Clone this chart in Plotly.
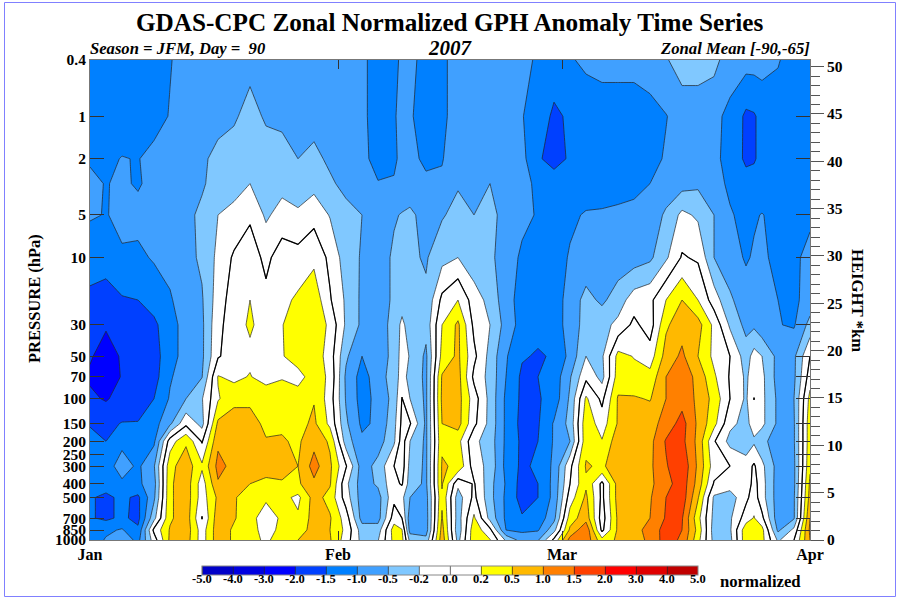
import numpy as np
import plotly.graph_objects as go

FONT = "Liberation Serif"

days = sorted(set(list(range(0, 40, 2)) + [39] + list(range(40, 92, 2)) + [83]))

pressure = [0.4, 1, 2, 3, 5, 10, 20, 30, 50, 70, 100, 150, 200, 300, 400, 500, 700, 850, 1000]
pressure_ticks = [0.4, 1, 2, 5, 10, 30, 50, 70, 100, 150, 200, 250, 300, 400, 500, 700, 850, 1000]
pressure_labels = ["0.4", "1", "2", "5", "10", "30", "50", "70", "100", "150", "200", "250", "300", "400", "500", "700", "850", "1000"]

month_days = [0, 31, 59, 90]
month_labels = ["Jan", "Feb", "Mar", "Apr"]

levels = [-5, -4, -3, -2, -1.5, -1, -0.5, -0.2, 0, 0.2, 0.5, 1, 1.5, 2, 3, 4, 5]
level_labels = ["-5.0", "-4.0", "-3.0", "-2.0", "-1.5", "-1.0", "-0.5", "-0.2", "0.0", "0.2", "0.5", "1.0", "1.5", "2.0", "3.0", "4.0", "5.0"]
band_colors = ["#0000c8", "#0000e0", "#0000ff", "#0040ff", "#0080ff", "#40a0ff", "#80c8ff", "#ffffff",
               "#ffffff", "#ffff00", "#ffb900", "#ff8000", "#ff4000", "#ff0000", "#e00000", "#c00000"]

anomaly = [
 [-1.3,-1.3,-1.3,-1.3,-1.2,-1.03,-.8,-.7, -.7,-.6,-.62,-.7,-.7,-.7,-.7,-.8, -.8,-.9,-1.2,-1.2,-.85,-.85,-1.2,-1.1, -.8,-.8,-.8,-.8,-.9,-1.05,-1.2,-1.05, -.9,-.8,-.8,-.8,-.7,-.55,-.35,-.35, -.4,-.8,-.8,-.8,-.8,-.95,-1.3,-1.3],
 [-1.3,-1.3,-1.3,-1.3,-1.2,-.97,-.8,-.7, -.6,-.55,-.42,-.55,-.6,-.7,-.7,-.8, -.8,-.9,-1.2,-1.05,-.85,-.95,-1.2,-1.05, -.9,-.8,-.8,-.9,-.98,-1.2,-1.6,-1.42, -1.3,-1.3,-1.3,-1.3,-1.2,-1.02,-.8,-.8, -.9,-1.1,-1.6,-1.55,-1.35,-1.3,-1.3,-1.3],
 [-1.05,-1.1,-.98,-1.02,-.85,-.8,-.7,-.55, -.45,-.4,-.35,-.4,-.4,-.5,-.42,-.6, -.7,-.85,-1.2,-1.1,-.85,-.8,-1.15,-1.02, -.8,-.75,-.7,-.75,-.85,-1.45,-1.65,-1.45, -1.3,-1.3,-1.3,-1.3,-1.15,-.95,-.75,-.8, -.9,-1.15,-1.6,-1.55,-1.35,-1.3,-1.3,-1.3],
 [-.9,-1.02,-.93,-1.05,-.85,-.8,-.7,-.55, -.4,-.3,-.2,-.3,-.3,-.3,-.3,-.45, -.65,-.8,-.97,-.95,-.85,-.75,-.85,-.95, -.55,-.6,-.5,-.7,-.85,-1.1,-1.3,-1.2, -1.3,-1.2,-1.1,-1.1,-1.0,-.8,-.7,-.6, -.8,-1.1,-1.3,-1.3,-1.3,-1.3,-1.3,-1.3],
 [-.95,-1.02,-.9,-.85,-.85,-.75,-.6,-.45, -.2,-.15,-.03,-.25,-.12,-.18,-.07,-.22, -.4,-.5,-.75,-.55,-.48,-.45,-.65,-.55, -.4,-.5,-.45,-.6,-.85,-1.05,-1.2,-1.1, -.95,-.95,-.95,-.9,-.8,-.45,-.15,-.25, -.5,-.95,-1.15,-1.05,-.98,-1.15,-1.2,-1.1],
 [-1.3,-1.4,-1.05,-1.1,-.95,-.85,-.65,-.45, -.15,.03,.1,-.05,.1,.08,.15,-.05, -.35,-.55,-.75,-.45,-.45,-.45,-.55,-.3, -.2,-.4,-.45,-.7,-1.1,-1.3,-1.25,-.95, -.85,-.8,-.8,-.75,-.6,-.25,.02,-.03, -.5,-.8,-1.05,-.95,-.9,-1.15,-1.1,-.85],
 [-1.6,-1.6,-1.55,-1.5,-1.3,-1.05,-.75,-.55, -.1,.1,.2,.05,.15,.25,.4,.02, -.25,-.6,-.75,-.45,-.35,-.3,-.45,.05, .2,-.1,-.3,-.8,-1.2,-1.35,-1.25,-.8, -.4,-.6,-.35,-.1,-.05,.2,.5,.2, -.1,-.45,-.8,-.85,-.9,-1.0,-1.1,-.8],
 [-1.8,-1.95,-1.85,-1.85,-1.6,-1.2,-.8,-.6, -.05,.1,.25,.1,.19,.4,.45,.15, -.25,-.6,-.75,-.4,-.15,-.35,-.4,.2, .6,-.05,-.2,-.7,-1.2,-1.35,-1.3,-.75, -.4,-.3,-.15,.05,-.1,.45,.8,.7, .15,-.25,-.65,-.6,-.85,-.98,-1.05,-.4],
 [-1.95,-2.4,-1.95,-1.85,-1.7,-1.2,-.8,-.6, -.02,.1,.15,.1,.18,.4,.4,.1, -.45,-1.0,-.8,-.4,-.12,-.22,-.6,.3, .6,.05,-.3,-.95,-1.45,-1.55,-1.45,-.85, -.2,-.25,.3,.19,.1,.7,1.1,.5, .15,0,-.35,-.12,-.2,-.65,-.6,0],
 [-2.15,-2.5,-1.97,-1.85,-1.7,-1.05,-.75,-.52, .22,.15,.22,.1,.18,.1,.4,.15, -.6,-1.2,-.75,-.35,-.12,-.3,-.6,.55, .7,-.05,-.3,-1.0,-1.6,-1.5,-1.3,-.55, -.05,-.3,.35,.3,.3,1.0,1.3,.85, .25,-.02,-.25,-.1,-.15,-.7,-.6,.1],
 [-1.9,-2.1,-1.8,-1.7,-1.5,-.95,-.5,-.22, .18,.4,.4,.45,.4,.4,.48,.1, -.55,-1.2,-.85,-.4,.01,-.2,-.6,.6, .7,.1,-.3,-1.1,-1.6,-1.55,-1.3,-.45, .25,-.05,.55,.55,.48,1.0,1.3,.9, .4,0,-.25,.005,-.15,-.6,-.5,.3],
 [-1.55,-1.6,-1.48,-1.48,-1.2,-.6,-.05,-.3, .6,.8,.8,.4,.45,.4,.6,.15, -.45,-1.1,-.9,-.3,.05,.02,-.6,.5, .7,.05,-.3,-1.1,-1.65,-1.55,-.95,-.4, .4,.1,.55,.8,.8,1.2,1.7,.9, .3,-.15,-.3,-.1,-.15,-.6,-.55,.4],
 [-1.3,-1.5,-1.15,-1.3,-1.1,.1,.45,-.02, .9,.8,.8,.55,.55,.45,.85,.45, -.35,-.9,-.75,-.25,.1,-.2,-.6,.45, .3,-.15,-.35,-1.1,-1.6,-1.5,-.95,-.5, .4,.22,.8,.85,.85,1.55,1.65,.85, .02,-.3,-.4,-.25,-.42,-.75,-.55,.4],
 [-1.3,-1.25,-.75,-1.1,-.55,.4,.8,.25, 1.15,.85,.85,.8,.8,.5,1.2,.6, .02,-.75,-.4,0,.1,-.3,-.6,.55, .45,-.1,-.3,-1.15,-1.6,-1.4,-.9,-.05, .55,.45,.8,.85,.9,1.45,1.9,.9, .1,0,-.1,.03,-.15,-.7,-.6,.45],
 [-1.35,-1.3,-1.1,-1.1,-.7,.45,.8,.1, .95,.7,.5,.4,.45,.45,.9,.55, -.15,-.75,-.45,-.05,.02,-.35,-.6,.55, -.15,.02,-.4,-1.05,-1.7,-1.5,-.85,0, .45,-.05,.7,.85,.9,1.3,1.8,.8, -.02,-.1,-.15,.08,-.12,-.75,-.6,.6],
 [-1.45,-1.6,-1.4,-1.6,-.6,.45,.8,.1, .6,.55,.35,.25,.3,.15,.7,.4, -.1,-.75,-.7,-.05,-.15,-.5,-.7,.45, -.35,.05,-.4,-1.1,-1.7,-1.5,-.85,.1, .6,-.05,.7,.75,.95,1.5,1.8,.55, -.25,-.35,-.05,.1,-.12,-.75,-.55,.7],
 [-1.45,-1.6,-1.4,-1.65,-.3,.45,.8,-.01, .8,.55,.3,.1,.25,.25,.7,.55, .1,-.7,-.7,.1,0,-.8,-.75,.55, -.35,.25,-.3,-1.1,-1.45,-1.3,-.65,.35, .8,-.1,.6,.8,1.0,1.55,1.55,.3, -.3,-.25,.1,.22,.05,-.8,-.55,1.0],
 [-1.3,-1.1,-.95,-1.4,.05,.55,.8,.1, .8,.45,.35,.1,.3,.35,.7,.5, .15,-.35,-.35,.35,.22,-.7,-.75,.7, -.4,.4,.05,-1.0,-1.1,-1.05,-.3,.6, 1.4,-.05,.6,.8,1.2,1.7,1.5,.4, -.35,-.25,.4,.4,.3,-.6,-.15,1.1],
 [-1.3,-.95,-.65,-1.15,-.1,.6,.75,.1, .8,.45,.35,.15,.4,.5,.7,.55, .1,-.3,-.22,.3,.3,-.3,-.4,.8, -.3,.4,.22,-.25,-.7,-.55,.05,1.2, 1.35,.3,.6,.8,1.1,1.75,1.4,.3, -.3,-.3,.4,.4,.3,-.25,0,1.0],
]

height_km_axis = [0, 50.7]

for row in anomaly:
    assert len(row) == len(days), len(row)

level_index = np.interp(np.array(anomaly), levels, np.arange(len(levels)))
n = len(band_colors)
scale = []
for i, c in enumerate(band_colors):
    scale += [[max(0.0, (i + 0.5) / n) if i else 0.0, c], [min(1.0, (i + 1.5) / n), c]]

fig = go.Figure()
fig.add_trace(go.Contour(
    x=days, y=pressure, z=level_index, zmin=0, zmax=n, colorscale=scale,
    autocontour=False,
    contours=dict(start=0, end=n - 1, size=1, coloring="fill"),
    line=dict(color="#222222", width=0.7, smoothing=0),
    hoverinfo="skip",
    colorbar=dict(
        orientation="h",
        x=0.5, xanchor="center", y=-26 / 480, yanchor="top",
        lenmode="pixels", len=496, thickness=9,
        tickmode="array", tickvals=list(range(len(levels))), showticklabels=False,
        ticks="", outlinecolor="#888888", outlinewidth=1, borderwidth=0,
        ypad=0, xpad=0,
    ),
))
fig.add_trace(go.Contour(
    x=days, y=pressure, z=level_index, showscale=False, autocontour=False,
    contours=dict(start=levels.index(0), end=levels.index(0), size=1, coloring="none"),
    line=dict(color="black", width=1.2, smoothing=0),
    hoverinfo="skip",
))
fig.add_trace(go.Scatter(x=[0], y=[0], yaxis="y2", mode="none", showlegend=False, hoverinfo="skip"))

tf = dict(family=FONT, size=15.5, color="black")
notes = [
    dict(text="<b>GDAS-CPC Zonal Normalized GPH Anomaly Time Series</b>", x=0.5, y=(540 - 22) / 480,
         showarrow=False, font=dict(family=FONT, size=25.2, color="black"), xanchor="center", yanchor="middle"),
    dict(text="<b><i>Season = JFM, Day =  90</i></b>", x=0, xshift=-2, y=(540 - 49) / 480,
         showarrow=False, font=dict(family=FONT, size=16.6, color="black"), xanchor="left", yanchor="middle"),
    dict(text="<b><i>2007</i></b>", x=0.5, y=(540 - 48) / 480,
         showarrow=False, font=dict(family=FONT, size=21, color="black"), xanchor="center", yanchor="middle"),
    dict(text="<b><i>Zonal Mean [-90,-65]</i></b>", x=1, xshift=2, y=(540 - 49) / 480,
         showarrow=False, font=dict(family=FONT, size=16.7, color="black"), xanchor="right", yanchor="middle"),
    dict(text="<b>PRESSURE (hPa)</b>", x=(34 - 90) / 720, y=(540 - 299) / 480,
         showarrow=False, textangle=-90, xanchor="center", yanchor="middle", font=dict(family=FONT, size=16.5, color="black")),
    dict(text="<b>HEIGHT *km</b>", x=(858 - 90) / 720, y=(540 - 300) / 480,
         showarrow=False, textangle=90, xanchor="center", yanchor="middle", font=dict(family=FONT, size=16.7, color="black")),
    dict(text="<b>normalized</b>", x=(760 - 90) / 720, y=(540 - 581) / 480,
         showarrow=False, xanchor="center", yanchor="middle", font=dict(family=FONT, size=16.7, color="black")),
]
for i, t in enumerate(level_labels):
    notes.append(dict(text=f"<b>{t}</b>", x=(202 + 31 * i - 90) / 720, y=(540 - 579) / 480, showarrow=False,
                      xanchor="center", yanchor="middle", font=dict(family=FONT, size=12.5, color="black")))
for a in notes:
    a.update(xref="paper", yref="paper")

fig.update_layout(
    width=900, height=600,
    margin=dict(l=90, r=90, t=60, b=60, autoexpand=False),
    paper_bgcolor="white", plot_bgcolor="white", showlegend=False,
    font=dict(family=FONT, color="black"),
    xaxis=dict(range=[0, 90], tickmode="array", tickvals=month_days, ticktext=[f"<b>{m}</b>" for m in month_labels],
               ticks="inside", ticklen=9, tickcolor="#333333", mirror="ticks", showgrid=False, zeroline=False,
               showline=True, linecolor="#777777", linewidth=1, tickfont=dict(family=FONT, size=16, color="black")),
    yaxis=dict(type="log", range=[3, np.log10(0.4)], tickmode="array", tickvals=pressure_ticks,
               ticktext=[f"<b>{p}</b>" for p in pressure_labels],
               ticks="inside", ticklen=14, tickcolor="#333333", mirror="ticks", showgrid=False, zeroline=False,
               showline=True, linecolor="#777777", linewidth=1, tickfont=tf),
    yaxis2=dict(overlaying="y", side="right", range=height_km_axis, tick0=0, dtick=5, tickmode="linear",
                ticks="outside", ticklen=13, tickcolor="#555555", showgrid=False, zeroline=False,
                minor=dict(dtick=1, ticks="outside", ticklen=9, tickcolor="#555555", showgrid=False),
                tickprefix="<b>", ticksuffix="</b>", tickfont=tf, showline=False),
    shapes=[dict(type="rect", xref="paper", yref="paper",
                 x0=(4.5 - 90) / 720, x1=(895.5 - 90) / 720, y0=(540 - 596.5) / 480, y1=(540 - 2.5) / 480,
                 line=dict(color="#8080ff", width=1), layer="below")],
    annotations=notes,
)

fig.write_html("out.html", config=dict(displayModeBar=False), post_script="document.body.style.margin='0';")
